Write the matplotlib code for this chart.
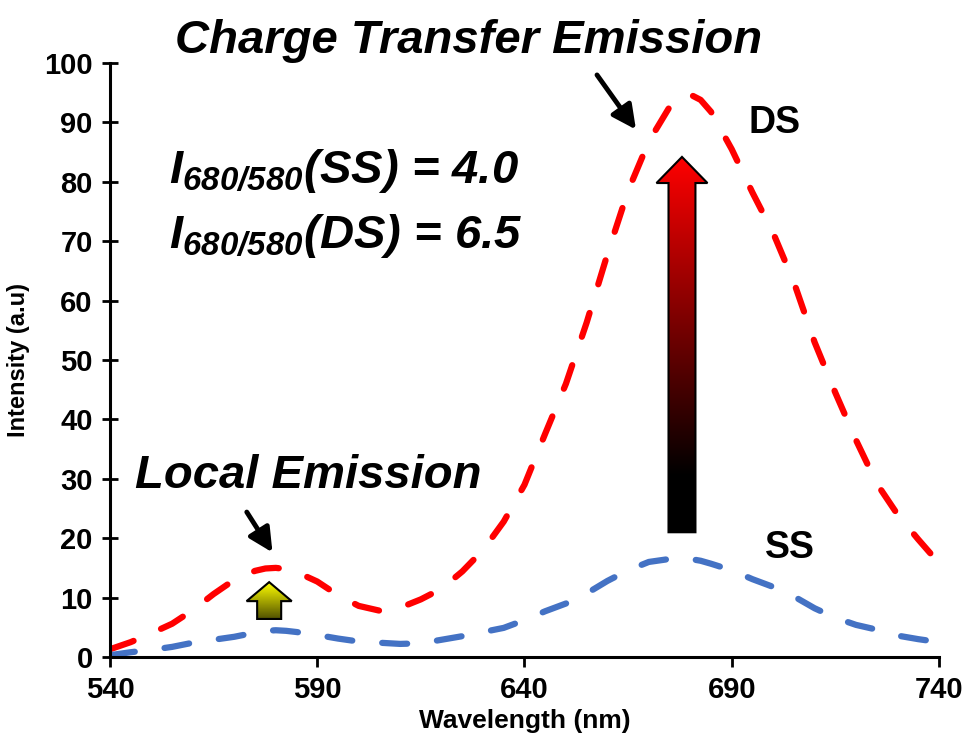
import numpy as np
import matplotlib
matplotlib.use("Agg")
import matplotlib.pyplot as plt
from matplotlib.patches import Polygon
from matplotlib.colors import LinearSegmentedColormap

plt.rcParams['font.family'] = ['Liberation Sans', 'DejaVu Sans']
plt.rcParams['font.weight'] = 'bold'

# emission spectra (every 5 nm, a few extra points at the peaks)
wavelength = [540, 545, 550, 555, 560, 565, 570, 575, 577.5, 580, 582.5, 585, 590, 595,
              600, 605, 610, 615, 620, 625, 630, 635, 640, 645, 650, 655, 660, 665,
              670, 675, 677.5, 680, 682.5, 685, 690, 695, 700, 705, 710, 715, 720,
              725, 730, 735, 740]
ds = [1.3, 2.5, 4.0, 5.6, 7.9, 10.6, 13.0, 14.5, 14.9, 15.0, 14.8, 14.3, 12.7, 10.4,
      8.6, 7.8, 8.3, 9.7, 11.5, 14.4, 18.0, 22.8, 29.0, 37.6, 46.0, 56.3, 67.8, 78.5,
      86.8, 92.6, 94.3, 94.7, 93.8, 91.8, 85.5, 78.2, 71.4, 63.1, 53.0, 44.5, 36.5,
      29.2, 24.0, 19.8, 15.8]
ss = [0.3, 0.8, 1.2, 1.7, 2.4, 2.9, 3.4, 4.1, 4.4, 4.5, 4.4, 4.2, 3.7, 3.1,
      2.6, 2.4, 2.2, 2.3, 2.9, 3.5, 4.2, 4.9, 6.2, 7.7, 9.0, 10.7, 12.8, 14.6,
      16.0, 16.5, 16.6, 16.5, 16.2, 15.7, 14.6, 13.1, 11.8, 10.2, 8.2, 6.6, 5.4,
      4.6, 3.6, 3.0, 2.5]

xticks = [540, 590, 640, 690, 740]
yticks = list(range(0, 101, 10))

fig = plt.figure(figsize=(9.65, 7.42), dpi=100)
ax = fig.add_axes([0.114, 0.1146, 0.859, 0.8004])

dash = (0, (4.0, 4.8))
ax.plot(wavelength, ds, color='#FF0000', lw=4.5, linestyle=dash,
        dash_capstyle='round', zorder=2)
ax.plot(wavelength, ss, color='#4472C4', lw=4.5, linestyle=dash,
        dash_capstyle='round', zorder=2)


def block_arrow(ax, x, y0, y1, head_len, head_w, shaft_w, colors):
    verts = [(x - shaft_w / 2, y0), (x + shaft_w / 2, y0),
             (x + shaft_w / 2, y1 - head_len), (x + head_w / 2, y1 - head_len),
             (x, y1), (x - head_w / 2, y1 - head_len),
             (x - shaft_w / 2, y1 - head_len)]
    poly = Polygon(verts, closed=True, facecolor='none', edgecolor='black',
                   lw=1.5, zorder=4)
    ax.add_patch(poly)
    grad = np.linspace(0, 1, 256).reshape(-1, 1)
    cmap = LinearSegmentedColormap.from_list('grad', colors)
    im = ax.imshow(grad, extent=[x - head_w / 2, x + head_w / 2, y0, y1],
                   origin='lower', cmap=cmap, aspect='auto', zorder=3)
    im.set_clip_path(poly)


# big gradient arrow (red -> black) and small yellow arrow
block_arrow(ax, 678.0, 21.0, 84.2, 4.4, 12.3, 6.5,
            [(0, 'black'), (0.15, 'black'), (1, '#FF0000')])
block_arrow(ax, 578.4, 6.4, 12.6, 3.2, 10.9, 5.8,
            [(0, '#505000'), (1, '#FFFF00')])

# black pointer arrows
arrow_kw = dict(arrowstyle='-|>', color='black', lw=3.5, mutation_scale=36,
                shrinkA=0, shrinkB=0)
ax.annotate('', xy=(666.9, 88.8), xytext=(657.5, 98.0), arrowprops=arrow_kw)
ax.annotate('', xy=(579.2, 17.6), xytext=(573.0, 24.4), arrowprops=arrow_kw)

# annotations
ax.text(626.6, 101.7, 'Charge Transfer Emission', fontsize=34, fontweight='bold',
        style='italic', ha='center', va='baseline')
ax.text(587.8, 28.5, 'Local Emission', fontsize=34, fontweight='bold',
        style='italic', ha='center', va='baseline')
ax.text(554.3, 79.8, r'I$_{\mathregular{680/580}}$(SS) = 4.0', fontsize=34,
        fontweight='bold', style='italic', ha='left', va='baseline')
ax.text(554.3, 68.9, r'I$_{\mathregular{680/580}}$(DS) = 6.5', fontsize=34,
        fontweight='bold', style='italic', ha='left', va='baseline')
ax.text(700.4, 89.9, 'DS', fontsize=27, fontweight='bold', ha='center', va='center')
ax.text(704.0, 18.4, 'SS', fontsize=27, fontweight='bold', ha='center', va='center')

ax.set_xlim(540, 740)
ax.set_ylim(0, 100)
ax.set_xticks(xticks)
ax.set_yticks(yticks)
ax.tick_params(axis='x', direction='out', length=7, width=2, labelsize=21, pad=7)
ax.tick_params(axis='y', direction='inout', length=11, width=2, labelsize=21, pad=7)
for lab in ax.get_xticklabels() + ax.get_yticklabels():
    lab.set_fontweight('bold')
ax.spines['top'].set_visible(False)
ax.spines['right'].set_visible(False)
ax.spines['left'].set_linewidth(2.2)
ax.spines['bottom'].set_linewidth(2.2)

ax.set_xlabel('Wavelength (nm)', fontsize=19, fontweight='bold', labelpad=3)
ax.set_ylabel('Intensity (a.u)', fontsize=17, fontweight='bold', labelpad=10)

fig.savefig('out.png', dpi=100)
